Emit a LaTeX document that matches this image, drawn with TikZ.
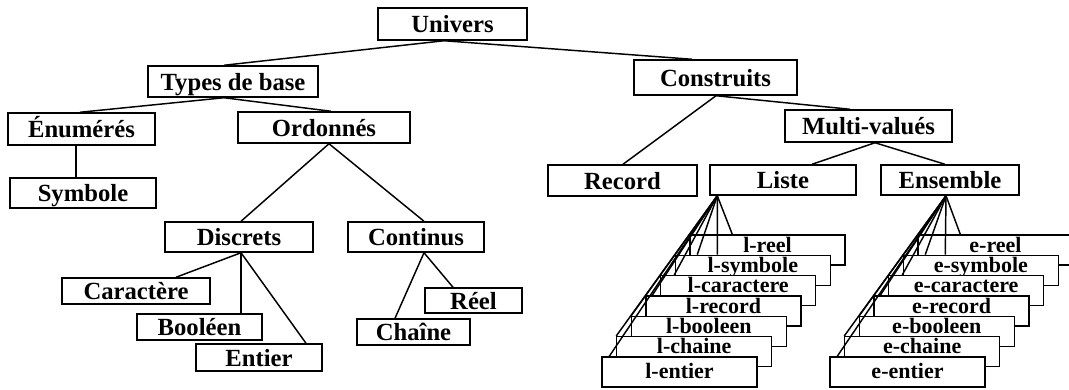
\documentclass[tikz,border=0pt]{standalone}
\usepackage{fontspec}
\setmainfont{Liberation Serif}
\usetikzlibrary{calc}
\begin{document}
\begin{tikzpicture}[x=0.75pt,y=-0.75pt,
  bx/.style 2 args={draw, fill=white, line width=1.1pt, inner sep=0pt,
    minimum width=#1*0.75pt, minimum height=#2*0.75pt,
    font=\fontsize{18.5}{20}\selectfont\bfseries, text height=13.5pt, text depth=0.5pt},
  sk/.style={draw, fill=white, line width=1.1pt, inner sep=0pt,
    minimum width=116.25pt, minimum height=22.5pt,
    font=\fontsize{16.5}{18}\selectfont\bfseries, text height=12.75pt, text depth=9.75pt},
  ske/.style={sk, text height=15.75pt, text depth=6.75pt},
  ln/.style={line width=1.1pt}]
\useasboundingbox (0,0) rectangle (1069,389);

% main tree nodes
\node[bx={149}{32}] (univ) at (452.5,24) {Univers};
\node[bx={170}{31}] (tdb) at (233,81.5) {Types de base};
\node[bx={147}{32}] (enum) at (81.5,129) {Énumérés};
\node[bx={172}{31}] (ord) at (324,127.5) {Ordonnés};
\node[bx={146}{30}] (sym) at (83,193) {Symbole};
\node[bx={148}{30}] (disc) at (239,237) {Discrets};
\node[bx={136}{30}] (cont) at (416,237) {Continus};
\node[bx={148}{26}] (car) at (136,291) {Caractère};
\node[bx={125}{26}] (bool) at (199.5,327) {Booléen};
\node[bx={126}{27}] (ent) at (259,357.5) {Entier};
\node[bx={113}{26}] (cha) at (413.5,332) {Chaîne};
\node[bx={97}{25}] (reel) at (473.5,300.5) {Réel};
\node[bx={163}{35}] (cons) at (715.5,77.5) {Construits};
\node[bx={167}{32}] (multi) at (868.5,126) {Multi-valués};
\node[bx={149}{31}] (rec) at (622.5,180.5) {Record};
\node[bx={146}{30}] (liste) at (783,180) {Liste};
\node[bx={138}{30}] (ens) at (950,180) {Ensemble};

% connectors
\coordinate (ua) at ($(univ.south)+(-8.5,0)$);
\draw[ln] (ua) -- ($(tdb.north)+(-9,0)$);
\draw[ln] (ua) -- ($(cons.north)+(-23.5,0)$);
\coordinate (ta) at ($(tdb.south)+(-9,0)$);
\draw[ln] (ta) -- ($(enum.north)+(-1.5,0)$);
\draw[ln] (ta) -- ($(ord.north)+(7,0)$);
\draw[ln] ($(enum.south)+(-5.5,0)$) -- ($(sym.north)+(-7,0)$);
\coordinate (oa) at ($(ord.south)+(5,0)$);
\draw[ln] (oa) -- ($(disc.north)+(2,0)$);
\draw[ln] (oa) -- ($(cont.north)+(8,0)$);
\coordinate (da) at ($(disc.south)+(2,0)$);
\draw[ln] (da) -- ($(car.north)+(40,0)$);
\draw[ln] (da) -- ($(bool.north)+(41.5,0)$);
\draw[ln] (da) -- ($(ent.north)+(47,0)$);
\coordinate (ca) at ($(cont.south)+(8,0)$);
\draw[ln] (ca) -- ($(cha.north)+(-18.5,0)$);
\draw[ln] (ca) -- ($(reel.north)+(-20.5,0)$);
\coordinate (csa) at ($(cons.south)+(0.5,0)$);
\draw[ln] (csa) -- ($(rec.north)+(0.5,0)$);
\draw[ln] (csa) -- ($(multi.north)+(-18.5,0)$);
\coordinate (ma) at ($(multi.south)+(6.5,0)$);
\draw[ln] (ma) -- ($(liste.north)+(29,0)$);
\draw[ln] (ma) -- ($(ens.north)+(-5,0)$);

% Liste stack
\node[sk] (l0) at (767.5,250) {l-reel};
\node[sk] (l1) at (752.83,270.33) {l-symbole};
\node[sk] (l2) at (738.17,290.67) {l-caractere};
\node[sk] (l3) at (723.5,311) {l-record};
\node[sk] (l4) at (708.83,331.33) {l-booleen};
\node[sk] (l5) at (694.17,351.67) {l-chaine};
\node[ske] (l6) at (679.5,372) {l-entier};

% Ensemble stack
\node[sk] (e0) at (995.5,250) {e-reel};
\node[sk] (e1) at (980.83,270.33) {e-symbole};
\node[sk] (e2) at (966.17,290.67) {e-caractere};
\node[sk] (e3) at (951.5,311) {e-record};
\node[sk] (e4) at (936.83,331.33) {e-booleen};
\node[sk] (e5) at (922.17,351.67) {e-chaine};
\node[ske] (e6) at (907.5,372) {e-entier};

% fans
\coordinate (la) at ($(liste.south west)+(8,0)$);
\draw[ln] (la) -- ($(l0.north west)+(43,0)$);
\draw[ln] (la) -- ($(l1.north west)+(42.67,0)$);
\draw[ln] (la) -- ($(l1.north west)+(22.67,0)$);
\draw[ln] (la) -- ($(l2.north west)+(14.33,0)$);
\draw[ln] (la) -- ($(l3.north west)+(7,0)$);
\draw[ln] (la) -- ($(l4.north west)+(0.67,0)$);
\draw[ln] (la) -- ($(l5.north west)+(0.33,0)$);
\draw[ln] (la) -- ($(l6.north west)+(8,0)$);

\coordinate (ea) at ($(ens.south)+(-4,0)$);
\draw[ln] (ea) -- ($(e0.north west)+(43,0)$);
\draw[ln] (ea) -- ($(e1.north west)+(42.67,0)$);
\draw[ln] (ea) -- ($(e1.north west)+(22.67,0)$);
\draw[ln] (ea) -- ($(e2.north west)+(14.33,0)$);
\draw[ln] (ea) -- ($(e3.north west)+(7,0)$);
\draw[ln] (ea) -- ($(e4.north west)+(0.67,0)$);
\draw[ln] (ea) -- ($(e5.north west)+(0.33,0)$);
\draw[ln] (ea) -- ($(e6.north west)+(8,0)$);
\end{tikzpicture}
\end{document}
